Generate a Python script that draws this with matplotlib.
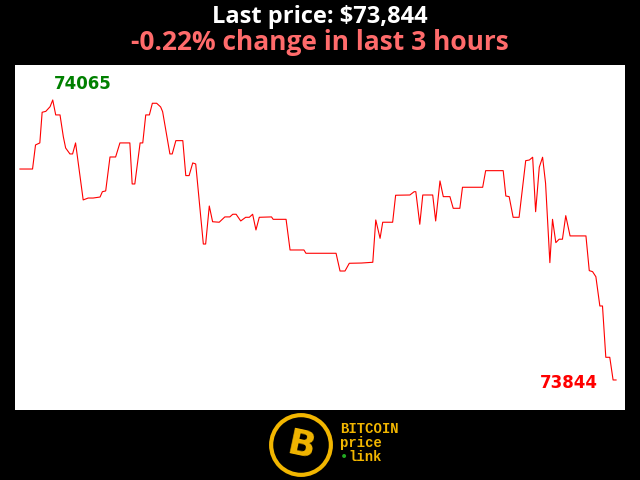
import matplotlib
matplotlib.use("Agg")
import matplotlib.pyplot as plt
from matplotlib.patches import Circle

# minutes since start of the 3 hour window, and price in USD
minutes = [0.0, 3.8, 4.7, 6.0, 6.7, 7.8, 9.1, 9.9, 10.8, 12.1, 13.1, 13.8, 15.1, 15.9,
           16.8, 19.1, 20.6, 22.1, 24.2, 24.9, 25.9, 27.2, 28.9, 30.2, 33.2, 33.9,
           34.7, 36.3, 37.1, 38.0, 39.1, 40.0, 41.3, 42.5, 43.1, 45.3, 46.0, 47.1,
           49.2, 50.1, 51.1, 52.2, 53.1, 55.4, 56.1, 57.2, 58.2, 60.2, 61.9, 63.4,
           64.3, 65.3, 66.7, 68.2, 69.3, 70.3, 71.3, 72.3, 76.0, 76.5, 80.4, 81.6,
           85.8, 86.4, 95.5, 96.7, 98.2, 99.5, 103.2, 106.6, 107.5, 108.8, 109.6,
           112.6, 113.5, 117.8, 119.1, 119.6, 120.8, 121.7, 124.7, 125.6, 126.9,
           127.9, 129.9, 130.9, 132.9, 133.7, 139.8, 140.7, 146.0, 146.8, 147.8,
           149.0, 150.8, 152.8, 153.9, 154.9, 155.8, 156.9, 157.9, 158.8, 160.1,
           160.9, 161.9, 162.9, 163.9, 164.9, 166.2, 171.0, 172.0, 173.0, 174.0,
           175.2, 176.0, 177.0, 178.2, 179.2, 180.1]
prices = [74010.5, 74010.5, 74029.5, 74031.1, 74055.3, 74056, 74059.7, 74065, 74053.2,
          74053.2, 74036.0, 74027.1, 74022.4, 74022.4, 74031.1, 73986.1, 73987.6,
          73987.6, 73988.4, 73992.6, 73993.2, 74020.0, 74020.0, 74031.1, 74031.1,
          73998.7, 73998.7, 74031.1, 74031.1, 74053.2, 74053.2, 74062.4, 74062.4,
          74059.5, 74055.8, 74022.4, 74022.4, 74032.9, 74032.9, 74005.3, 74005.3,
          74015.3, 74014.5, 73951.3, 73951.3, 73981.3, 73968.9, 73968.5, 73972.7,
          73972.7, 73974.8, 73974.8, 73969.5, 73972.4, 73972.4, 73974.8, 73962.4,
          73972.4, 73972.7, 73970.8, 73970.8, 73946.6, 73946.6, 73944.0, 73944.0,
          73930.0, 73930.0, 73936.1, 73936.3, 73936.9, 73970.3, 73955.8, 73968.5,
          73968.5, 73989.8, 73990.0, 73992.6, 73992.6, 73966.9, 73990.0, 73990.0,
          73969.5, 74001.1, 73988.7, 73988.7, 73979.5, 73979.5, 73996.1, 73996.1,
          74009.2, 74009.2, 73989.2, 73988.7, 73972.4, 73972.4, 74017.1, 74017.6,
          74019.8, 73976.8, 74011.9, 74019.8, 73999.3, 73936.6, 73970.8, 73952.4,
          73955.1, 73955.1, 73973.7, 73957.7, 73957.7, 73930.3, 73929.5, 73925.5,
          73902.4, 73902.4, 73861.9, 73861.9, 73844, 73844]

high_price = 74065
last_price = 73844
change_pct = -0.22

fig = plt.figure(figsize=(6.4, 4.8), dpi=100, facecolor="black")

ax = fig.add_axes([15/640, 70/480, 610/640, 345/480])
ax.set_facecolor("white")
ax.plot(minutes, prices, color="#ff0000", lw=0.8)
ax.set_xlim(-1.5, 182.8)
ax.set_ylim(73820.3, 74092.6)
ax.set_xticks([])
ax.set_yticks([])
for s in ax.spines.values():
    s.set_visible(False)

ax.text(10.2, 74077.5, str(high_price), color="#008000", fontsize=12,
        fontweight="bold", ha="left", va="center")
ax.text(174.6, 73841.5, str(last_price), color="#ff0000", fontsize=12,
        fontweight="bold", ha="right", va="center")

fig.text(0.5, 1 - 17/480, "Last price: ${:,}".format(last_price), color="white",
         fontsize=17, fontweight="bold", family="Open Sans", ha="center", va="center")
fig.text(0.5, 1 - 43/480, "{:.2f}% change in last 3 hours".format(change_pct),
         color="#ff6b6b", fontsize=19, fontweight="bold", family="Open Sans",
         ha="center", va="center")

# logo
gold = "#f2b600"
lax = fig.add_axes([268/640, 1 - 478/480, 66/640, 66/480])
lax.set_xlim(-1.05, 1.05)
lax.set_ylim(-1.05, 1.05)
lax.set_aspect("equal")
lax.axis("off")
lax.add_patch(Circle((0, 0), 0.95, fill=False, ec=gold, lw=3))
lax.text(0.02, -0.02, "B", color=gold, fontsize=26, fontweight="bold",
         ha="center", va="center", rotation=-12)

mono = "Liberation Mono"
fig.text(340/640, 1 - 429/480, "BITCOIN", color=gold, fontsize=10,
         family=mono, fontweight="bold", va="center")
fig.text(340/640, 1 - 443/480, "price", color=gold, fontsize=10,
         family=mono, fontweight="bold", va="center")
fig.text(340/640, 1 - 457/480, "\u2022", color="#22aa22", fontsize=10,
         family=mono, fontweight="bold", va="center")
fig.text(348/640, 1 - 457/480, "link", color=gold, fontsize=10,
         family=mono, fontweight="bold", va="center")

fig.savefig("out.png", dpi=100, facecolor="black")
